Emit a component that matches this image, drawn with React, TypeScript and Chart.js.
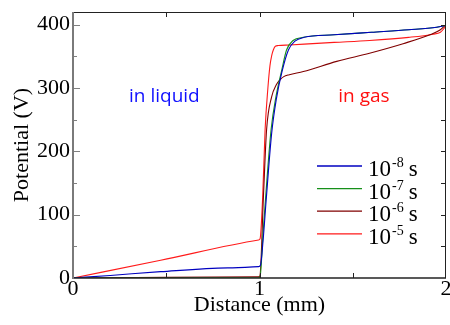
import React, { useEffect, useRef } from 'react';
import { Chart, registerables } from 'chart.js';

Chart.register(...registerables);

// ---- data ----
const X_TITLE = 'Distance (mm)';
const Y_TITLE = 'Potential (V)';
const xTicks = [0, 1, 2];
const yTicks = [0, 100, 200, 300, 400];
const xTickMarks = [0.5, 1, 1.5];
const yTickMarks = [50, 100, 150, 200, 250, 300, 350, 400];
const X_MIN = 0;
const X_MAX = 2;
const Y_MIN = 0;
const Y_MAX = 420;

const legendBase = '10';
const legendExp = ['-8', '-7', '-6', '-5'];
const legendUnit = 's';
const seriesColors = ['#0000c0', '#16901a', '#800000', '#ff1a1a'];

// 10^-8 s
const s8X = [0, 0.2, 0.47, 0.83, 0.995, 1.005, 1.02, 1.035, 1.065, 1.09, 1.12, 1.155, 1.19, 1.24, 1.4, 1.6, 1.8, 1.95, 2.0];
const s8Y = [0, 4, 10, 16, 18, 20, 62, 120, 228, 282, 325, 360, 374, 380, 384, 388, 392, 396, 399];
// 10^-7 s
const s7X = [0, 0.5, 0.995, 1.003, 1.02, 1.033, 1.062, 1.088, 1.119, 1.145, 1.18, 1.235, 1.4, 1.6, 1.8, 1.95, 2.0];
const s7Y = [0, 0, 0.5, 2, 75, 128, 234, 286, 328, 360, 375, 380, 384, 388, 392, 396, 399];
// 10^-6 s
const s6X = [0, 0.5, 0.995, 1.002, 1.021, 1.038, 1.065, 1.09, 1.11, 1.13, 1.16, 1.235, 1.414, 1.59, 1.77, 1.914, 1.97, 2.0];
const s6Y = [0, 1, 2, 3, 128, 234, 286, 305, 313, 318, 321, 326, 342, 355, 370, 384, 392, 400];
// 10^-5 s
const s5X = [0, 0.47, 0.995, 1.003, 1.017, 1.03, 1.045, 1.056, 1.066, 1.074, 1.085, 1.1, 1.16, 1.4, 1.59, 1.8, 1.93, 1.97, 2.0];
const s5Y = [0, 28, 60, 62, 128, 234, 300, 335, 352, 360, 366, 367, 368, 372, 375, 380, 385, 388, 398];

const seriesX = [s8X, s7X, s6X, s5X];
const seriesY = [s8Y, s7Y, s6Y, s5Y];

const annotTexts = ['in liquid', 'in gas'];
const annotX = [0.49, 1.56];
const annotY = [278, 278];
const annotColors = ['#1010ff', '#ff1010'];

const SERIF = "'Liberation Serif', 'Times New Roman', serif";

const framePlugin = {
  id: 'frame',
  afterDatasetsDraw(chart: any) {
    const { ctx, chartArea, scales } = chart;
    const { left, right, top, bottom } = chartArea;
    const x = scales.x;
    const y = scales.y;
    ctx.save();
    // annotations
    ctx.font = "19px 'Open Sans', 'Liberation Sans', sans-serif";
    ctx.textAlign = 'center';
    ctx.textBaseline = 'alphabetic';
    annotTexts.forEach((t, i) => {
      ctx.fillStyle = annotColors[i];
      ctx.fillText(t, x.getPixelForValue(annotX[i]), y.getPixelForValue(annotY[i]));
    });
    // inward ticks
    ctx.lineWidth = 1;
    ctx.strokeStyle = '#222';
    ctx.beginPath();
    xTickMarks.forEach((v) => {
      const px = Math.round(x.getPixelForValue(v)) + 0.5;
      ctx.moveTo(px, top);
      ctx.lineTo(px, top + 5);
      ctx.moveTo(px, bottom);
      ctx.lineTo(px, bottom - 5);
    });
    yTickMarks.forEach((v) => {
      const py = Math.round(y.getPixelForValue(v)) + 0.5;
      ctx.moveTo(right, py);
      ctx.lineTo(right - 5, py);
    });
    ctx.stroke();
    ctx.strokeStyle = '#808080';
    ctx.beginPath();
    yTickMarks.forEach((v) => {
      const py = Math.round(y.getPixelForValue(v)) + 0.5;
      ctx.moveTo(left, py);
      ctx.lineTo(left + (v % 100 === 0 ? 7 : 4), py);
    });
    ctx.stroke();
    // frame
    ctx.strokeStyle = '#222';
    ctx.lineWidth = 1;
    ctx.beginPath();
    ctx.moveTo(left, Math.round(top) + 0.5);
    ctx.lineTo(right, Math.round(top) + 0.5);
    ctx.moveTo(Math.round(right) - 0.5, top);
    ctx.lineTo(Math.round(right) - 0.5, bottom);
    ctx.stroke();
    ctx.lineWidth = 1.5;
    ctx.beginPath();
    ctx.moveTo(left, bottom);
    ctx.lineTo(right, bottom);
    ctx.stroke();
    ctx.strokeStyle = '#7a7a7a';
    ctx.lineWidth = 2;
    ctx.beginPath();
    ctx.moveTo(left, top);
    ctx.lineTo(left, bottom + 1);
    ctx.stroke();
    // legend
    const lx0 = right - 129;
    const lx1 = right - 84;
    const tx = right - 78;
    legendExp.forEach((e, i) => {
      const ry = top + 154 + i * 22.6;
      ctx.strokeStyle = seriesColors[i];
      ctx.lineWidth = 1.3;
      ctx.beginPath();
      ctx.moveTo(lx0, ry);
      ctx.lineTo(lx1, ry);
      ctx.stroke();
      ctx.fillStyle = '#000';
      ctx.textAlign = 'left';
      ctx.textBaseline = 'alphabetic';
      ctx.font = `23px ${SERIF}`;
      ctx.fillText(legendBase, tx, ry + 10);
      const w1 = ctx.measureText(legendBase).width + 1;
      ctx.font = `14px ${SERIF}`;
      ctx.fillText(e, tx + w1, ry + 1);
      const w2 = ctx.measureText(e).width;
      ctx.font = `23px ${SERIF}`;
      ctx.fillText(legendUnit, tx + w1 + w2 + 5, ry + 10);
    });
    ctx.restore();
  },
};

export default function App() {
  const ref = useRef<HTMLCanvasElement>(null);
  useEffect(() => {
    const datasets = seriesX.map((xs, i) => ({
      label: legendBase + legendExp[i] + ' ' + legendUnit,
      data: xs.map((xv, j) => ({ x: xv, y: seriesY[i][j] })),
      borderColor: seriesColors[i],
      backgroundColor: seriesColors[i],
      borderWidth: 1.1,
      pointRadius: 0,
      fill: false,
      cubicInterpolationMode: 'monotone' as const,
    }));
    const chart = new Chart(ref.current!, {
      type: 'line',
      data: { datasets },
      options: {
        animation: false,
        responsive: false,
        devicePixelRatio: 1,
        layout: { padding: { top: 12, right: 4, left: 0, bottom: 0 } },
        plugins: { legend: { display: false }, tooltip: { enabled: false } },
        scales: {
          x: {
            type: 'linear',
            min: X_MIN,
            max: X_MAX,
            grid: { display: false, drawTicks: false },
            border: { display: false },
            afterBuildTicks: (s: any) => {
              s.ticks = xTicks.map((v) => ({ value: v }));
            },
            afterFit: (s: any) => {
              s.height = 47;
              s.paddingLeft = 0;
              s.paddingRight = 0;
            },
            ticks: {
              color: '#000',
              padding: 0,
              maxRotation: 0,
              font: { family: SERIF, size: 22, lineHeight: 1 },
              callback: (v: any) => String(v),
            },
            title: {
              display: true,
              text: X_TITLE,
              color: '#000',
              font: { family: SERIF, size: 22 },
              padding: { top: 0, bottom: 7 },
            },
          },
          y: {
            type: 'linear',
            min: Y_MIN,
            max: Y_MAX,
            grid: { display: false, drawTicks: false },
            border: { display: false },
            afterBuildTicks: (s: any) => {
              s.ticks = yTicks.map((v) => ({ value: v }));
            },
            afterFit: (s: any) => {
              s.width = 73;
              s.paddingTop = 0;
              s.paddingBottom = 0;
            },
            ticks: {
              color: '#000',
              padding: 3,
              font: { family: SERIF, size: 22 },
              callback: (v: any) => String(v),
            },
            title: {
              display: true,
              text: Y_TITLE,
              color: '#000',
              font: { family: SERIF, size: 22 },
              padding: { top: 9, bottom: 0 },
            },
          },
        },
      },
      plugins: [framePlugin],
    });
    return () => chart.destroy();
  }, []);
  return (
    <div style={{ position: 'fixed', left: 0, top: 0, width: 450, height: 325, background: '#fff' }}>
      <canvas ref={ref} width={450} height={325} style={{ display: 'block' }} />
    </div>
  );
}
